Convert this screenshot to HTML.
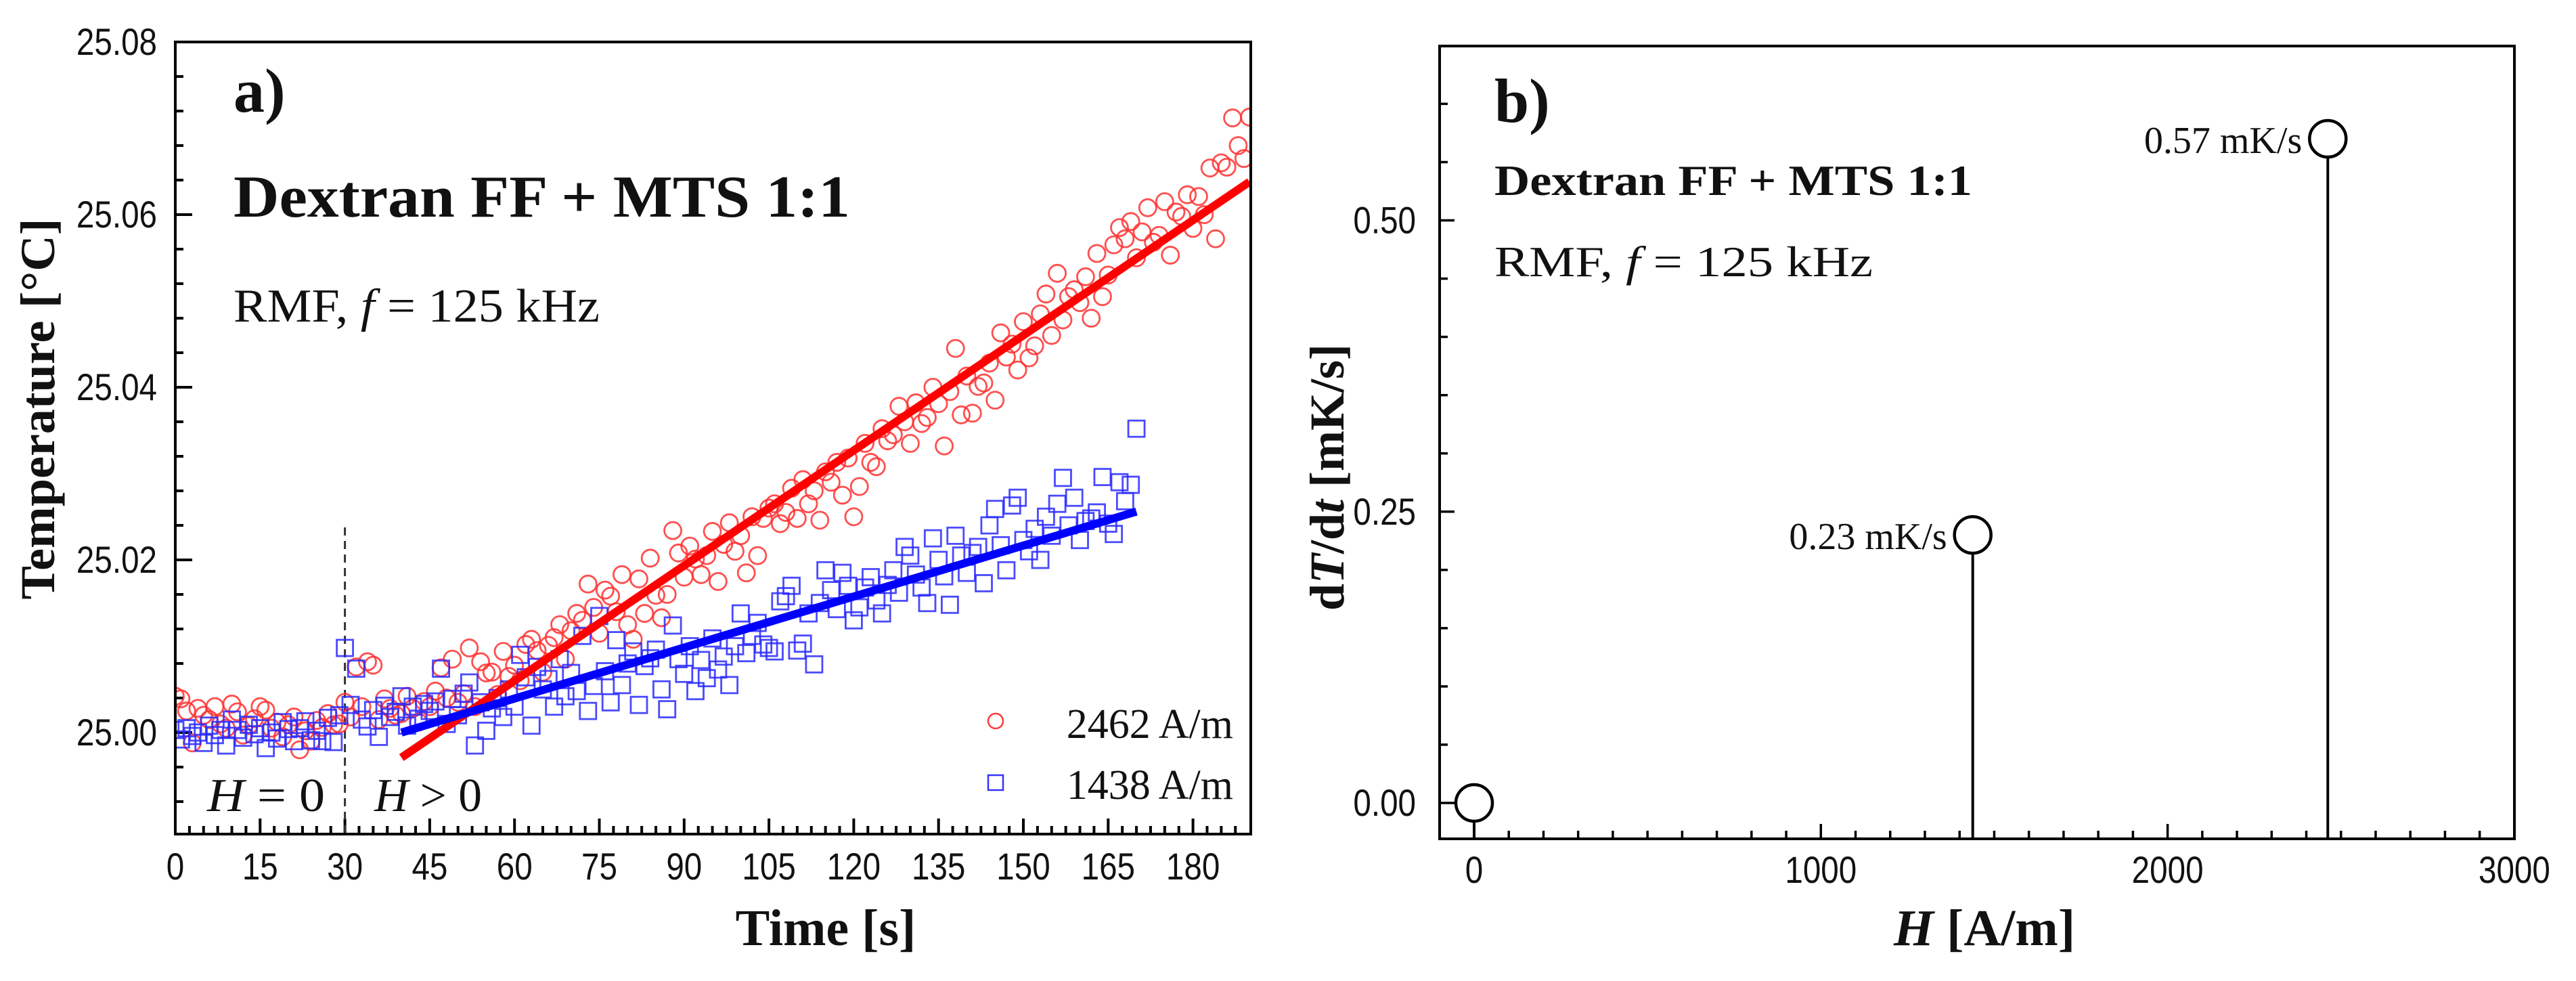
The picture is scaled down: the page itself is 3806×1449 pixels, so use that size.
<!DOCTYPE html>
<html><head><meta charset="utf-8"><style>
html,body{margin:0;padding:0;background:#fff;}
svg{display:block;}
.tk{font-family:"Liberation Sans",Arial,sans-serif;font-size:56px;fill:#111;}
.sf{font-family:"Liberation Serif","Times New Roman",serif;fill:#111;}
</style></head><body>
<svg id="fig" width="3806" height="1449" viewBox="0 0 3806 1449" xmlns="http://www.w3.org/2000/svg">
<g id="pa"></g>
<g id="pb"></g>
<text class="sf" x="345" y="165" font-size="92" font-weight="bold">a)</text>
<text class="sf" x="345" y="320" font-size="88" font-weight="bold" textLength="911" lengthAdjust="spacingAndGlyphs">Dextran FF + MTS 1:1</text>
<text class="sf" x="345" y="475" font-size="70" textLength="541" lengthAdjust="spacingAndGlyphs">RMF, <tspan font-style="italic">f</tspan> = 125 kHz</text>
<text class="sf" x="306" y="1198" font-size="70" textLength="174" lengthAdjust="spacingAndGlyphs"><tspan font-style="italic">H</tspan> = 0</text>
<text class="sf" x="553" y="1198" font-size="70" textLength="159" lengthAdjust="spacingAndGlyphs"><tspan font-style="italic">H</tspan> &gt; 0</text>
<text class="sf" transform="translate(80,604) rotate(-90)" text-anchor="middle" font-size="72" font-weight="bold" textLength="563" lengthAdjust="spacingAndGlyphs">Temperature [°C]</text>
<text class="sf" x="1220" y="1396" text-anchor="middle" font-size="76" font-weight="bold">Time [s]</text>
<g>
<circle cx="1471" cy="1065" r="11" fill="none" stroke="#ff3b3b" stroke-width="2.5"/>
<text class="sf" x="1822" y="1090" text-anchor="end" font-size="62">2462 A/m</text>
<rect x="1460" y="1145" width="22" height="22" fill="none" stroke="#3535ff" stroke-width="2.5"/>
<text class="sf" x="1822" y="1180" text-anchor="end" font-size="62">1438 A/m</text>
</g>
<text class="sf" x="2208" y="180" font-size="92" font-weight="bold">b)</text>
<text class="sf" x="2208" y="288" font-size="64" font-weight="bold" textLength="706" lengthAdjust="spacingAndGlyphs">Dextran FF + MTS 1:1</text>
<text class="sf" x="2208" y="408" font-size="64" textLength="559" lengthAdjust="spacingAndGlyphs">RMF,   <tspan font-style="italic">f</tspan> = 125 kHz</text>
<text class="sf" transform="translate(1985,705) rotate(-90)" text-anchor="middle" font-size="72" font-weight="bold">d<tspan font-style="italic">T</tspan>/d<tspan font-style="italic">t</tspan> [mK/s]</text>
<text class="sf" x="2932" y="1396" text-anchor="middle" font-size="76" font-weight="bold"><tspan font-style="italic">H</tspan> [A/m]</text>
</svg>
<script>
// ---------- panel a data ----------
var timeStart = 0;
var redDeltaMK = [4.2,3.9,2.5,-1.2,2.8,2.0,1.5,3.0,1.0,0.5,
3.3,2.4,-0.3,0.8,1.6,3.0,2.6,0.5,1.2,-0.5,
0.9,1.8,-2.0,0.2,-1.0,1.4,0.6,2.2,0.9,1.0,
3.5,1.8,7.6,3.0,8.2,7.8,1.5,3.9,2.8,2.0,
2.2,4.2,2.8,1.2,3.6,3.0,4.8,7.5,4.0,8.5,
3.5,4.5,9.8,3.0,8.2,6.9,7.0,4.4,9.4,6.5,
7.8,6.0,10.2,10.8,9.5,7.0,10.1,11.0,12.5,8.5,
11.8,13.8,13.0,17.2,14.5,11.5,16.5,15.8,14.0,18.3,
12.5,10.8,17.8,13.8,20.2,15.9,13.3,16.0,23.4,20.8,
18.0,21.6,20.1,18.3,20.5,23.3,17.5,21.8,24.3,21.0,
22.8,18.5,25.0,20.5,24.8,26.0,26.5,24.2,25.5,28.3,
24.8,29.3,26.5,28.0,24.6,30.2,29.0,31.3,27.5,31.8,
25.0,28.5,33.5,31.3,30.8,35.2,33.8,34.5,37.8,36.0,
33.5,38.2,35.8,36.5,40.0,38.1,33.2,39.5,44.5,36.8,
41.3,37.0,40.1,40.5,42.8,38.5,46.3,43.5,45.0,42.0,
47.6,43.4,44.8,48.5,50.8,46.0,53.2,47.8,50.5,51.3,
49.8,52.8,48.0,55.5,50.5,53.0,56.5,58.5,57.2,59.2,
55.0,58.0,60.8,56.8,57.6,61.5,55.3,60.3,59.8,62.3,
58.4,62.1,60.0,65.4,57.2,66.0,65.5,71.2,68.0,66.5,
71.3];
var blueDeltaMK = [0.3,-0.8,0.5,-0.4,0.0,-1.2,0.8,-0.3,0.3,-1.5,
1.5,0.3,-0.6,0.9,-0.2,0.5,-1.8,0.0,-0.7,1.2,
0.4,-1.0,0.5,1.3,-0.9,0.2,-1.0,1.7,-1.1,2.0,
9.8,3.2,7.4,1.5,0.7,2.6,-0.5,3.1,1.8,2.4,
4.2,0.8,3.0,1.6,3.3,2.5,3.6,7.4,1.0,3.9,
2.0,4.5,5.8,-1.5,3.5,0.2,2.8,4.0,1.8,5.0,
3.0,9.0,6.4,0.8,7.6,5.0,6.2,3.0,8.5,4.2,
6.9,4.8,11.2,2.5,5.4,13.5,7.1,3.5,10.7,5.5,
8.0,9.4,3.2,7.7,8.6,9.6,5.0,2.7,12.4,8.5,
6.8,10.0,4.8,8.4,6.3,10.9,7.3,8.8,5.5,10.0,
13.8,9.2,11.2,12.7,10.2,9.8,9.4,15.2,15.8,17.0,
9.5,10.3,13.8,7.9,15.0,18.8,16.5,14.3,18.5,17.0,
13.0,14.5,16.8,18.0,15.3,13.8,17.1,18.8,16.2,21.5,
20.5,18.3,16.8,15.0,22.5,20.0,18.1,14.8,22.8,20.5,
18.5,20.8,21.5,17.3,24.0,25.9,21.7,18.8,26.3,27.2,
22.3,21.0,23.6,20.0,25.0,22.8,26.5,29.5,24.0,27.2,
22.3,24.5,24.8,25.5,29.6,24.2,23.0,29.0,26.8,28.7,
35.2];
var baseTemp = 25.0;
var redFitT = [40, 190];
var redFitTemp = [24.9971, 25.0638];
var blueFitT = [40, 170];
var blueFitTemp = [25.0000, 25.0256];
var xTicksA = [0,15,30,45,60,75,90,105,120,135,150,165,180];
var yTicksA = [25.00,25.02,25.04,25.06,25.08];
var fieldOnTime = 30;
// ---------- panel b data ----------
var fieldH = [0, 1438, 2462];
var heatRate = [0, 0.23, 0.57];
var rateLabels = ["", "0.23 mK/s", "0.57 mK/s"];
var xTicksB = [0,1000,2000,3000];
var yTicksB = [0.00,0.25,0.50];

var NS = "http://www.w3.org/2000/svg";
function mk(parent, tag, attrs){ var e=document.createElementNS(NS,tag); for(var k in attrs) e.setAttribute(k,attrs[k]); parent.appendChild(e); return e; }

var A = {l:259, r:1848, t:62, b:1232};
function xa(t){ return A.l + t*125.3/15; }
function ya(T){ return 1082 - (T-25.0)*12750; }
var B = {l:2127, r:3715, t:68, b:1239};
function xb(h){ return 2178 + h*0.5123; }
function yb(v){ return 1186 - v*1721; }

var pa = document.getElementById('pa');
var pb = document.getElementById('pb');

function tickLabel(parent, x, y, anchor, txt, name){
  // condensed look: scale x 0.85
  var g = mk(parent,'g',{transform:'translate('+x+','+y+') scale(0.85,1)'});
  var t = mk(g,'text',{x:0,y:0,'text-anchor':anchor,'class':'tk'});
  t.textContent = txt;
  
  
}

for (var i=0;i<=76;i++){
  var t=i*2.5, x=xa(t); if (x>A.r-2) break;
  var major = (i%6===0);
  var tk = mk(pa,'line',{x1:x,x2:x,y1:A.b,y2:A.b-(major?23:12),stroke:'#000','stroke-width':4});
  
  
}
xTicksA.forEach(function(v){ tickLabel(pa, xa(v), 1299, 'middle', String(v), 'x-tick-label-a'); });
for (var j=-3;j<=20;j++){
  var T=25.0+j*0.004, y=ya(T); if (y>A.b-2||y<A.t+2) continue;
  var mj=(j%5===0);
  var tk2 = mk(pa,'line',{x1:A.l,x2:A.l+(mj?25:12),y1:y,y2:y,stroke:'#000','stroke-width':4});
  
  
}
yTicksA.forEach(function(v){ tickLabel(pa, 232, ya(v)+19, 'end', v.toFixed(2), 'y-tick-label-a'); });
var dl = mk(pa,'line',{x1:xa(fieldOnTime),x2:xa(fieldOnTime),y1:779,y2:A.b,stroke:'#333','stroke-width':3,'stroke-dasharray':'12,8'});



var defs = mk(document.getElementById('fig'),'defs',{});
var cp = mk(defs,'clipPath',{id:'clipA'});
mk(cp,'rect',{x:A.l,y:A.t,width:A.r-A.l,height:A.b-A.t});
var plotA = mk(pa,'g',{'clip-path':'url(#clipA)'});



var gR = mk(plotA,'g',{fill:'none',stroke:'#ff3030','stroke-width':2.8,'stroke-opacity':0.85});


redDeltaMK.forEach(function(d,i){
  var c = mk(gR,'circle',{cx:xa(timeStart+i),cy:ya(baseTemp+d/1000),r:12.5});
  
  
});
var gB = mk(plotA,'g',{fill:'none',stroke:'#2a2aff','stroke-width':2.8,'stroke-opacity':0.85});


blueDeltaMK.forEach(function(d,i){
  var s = mk(gB,'rect',{x:xa(timeStart+i)-12,y:ya(baseTemp+d/1000)-12,width:24,height:24});
  
  
});
var fr = mk(plotA,'line',{x1:xa(redFitT[0]),y1:ya(redFitTemp[0]),x2:xa(redFitT[1]),y2:ya(redFitTemp[1]),stroke:'#ff0000','stroke-width':12});


var fb = mk(plotA,'line',{x1:xa(blueFitT[0]),y1:ya(blueFitTemp[0]),x2:xa(blueFitT[1]),y2:ya(blueFitTemp[1]),stroke:'#0000ff','stroke-width':12});



var frameA = mk(pa,'rect',{x:A.l,y:A.t,width:A.r-A.l,height:A.b-A.t,fill:'none',stroke:'#000','stroke-width':4});



for (var h=0;h<=3000;h+=100){
  var xx=xb(h); if (xx>B.r-2) break;
  var mj2=(h%1000===0);
  var tk3 = mk(pb,'line',{x1:xx,x2:xx,y1:B.b,y2:B.b-(mj2?22:12),stroke:'#000','stroke-width':3.5});
  
  
}
xTicksB.forEach(function(v){ tickLabel(pb, xb(v), 1304, 'middle', String(v), 'x-tick-label-b'); });
for (var k=0;k<=13;k++){
  var vv=k*0.05, yy=yb(vv); if (yy<B.t+2) break;
  var mj3=(k%5===0);
  var tk4 = mk(pb,'line',{x1:B.l,x2:B.l+(mj3?22:12),y1:yy,y2:yy,stroke:'#000','stroke-width':3.5});
  
  
}
yTicksB.forEach(function(v){ tickLabel(pb, 2092, yb(v)+19, 'end', v.toFixed(2), 'y-tick-label-b'); });
fieldH.forEach(function(hv,i){
  var cx=xb(hv), cy=yb(heatRate[i]);
  var st = mk(pb,'line',{x1:cx,x2:cx,y1:cy,y2:B.b,stroke:'#000','stroke-width':4});
  
  
  var ci = mk(pb,'circle',{cx:cx,cy:cy,r:27,fill:'#fff',stroke:'#000','stroke-width':4.5});
  
  
  if (rateLabels[i]){
    var lb = mk(pb,'text',{x:cx-38,y:cy+21,'text-anchor':'end','class':'sf','font-size':56});
    lb.textContent = rateLabels[i];
    
    
  }
});
var frameB = mk(pb,'rect',{x:B.l,y:B.t,width:B.r-B.l,height:B.b-B.t,fill:'none',stroke:'#000','stroke-width':4});


</script>
</body></html>
